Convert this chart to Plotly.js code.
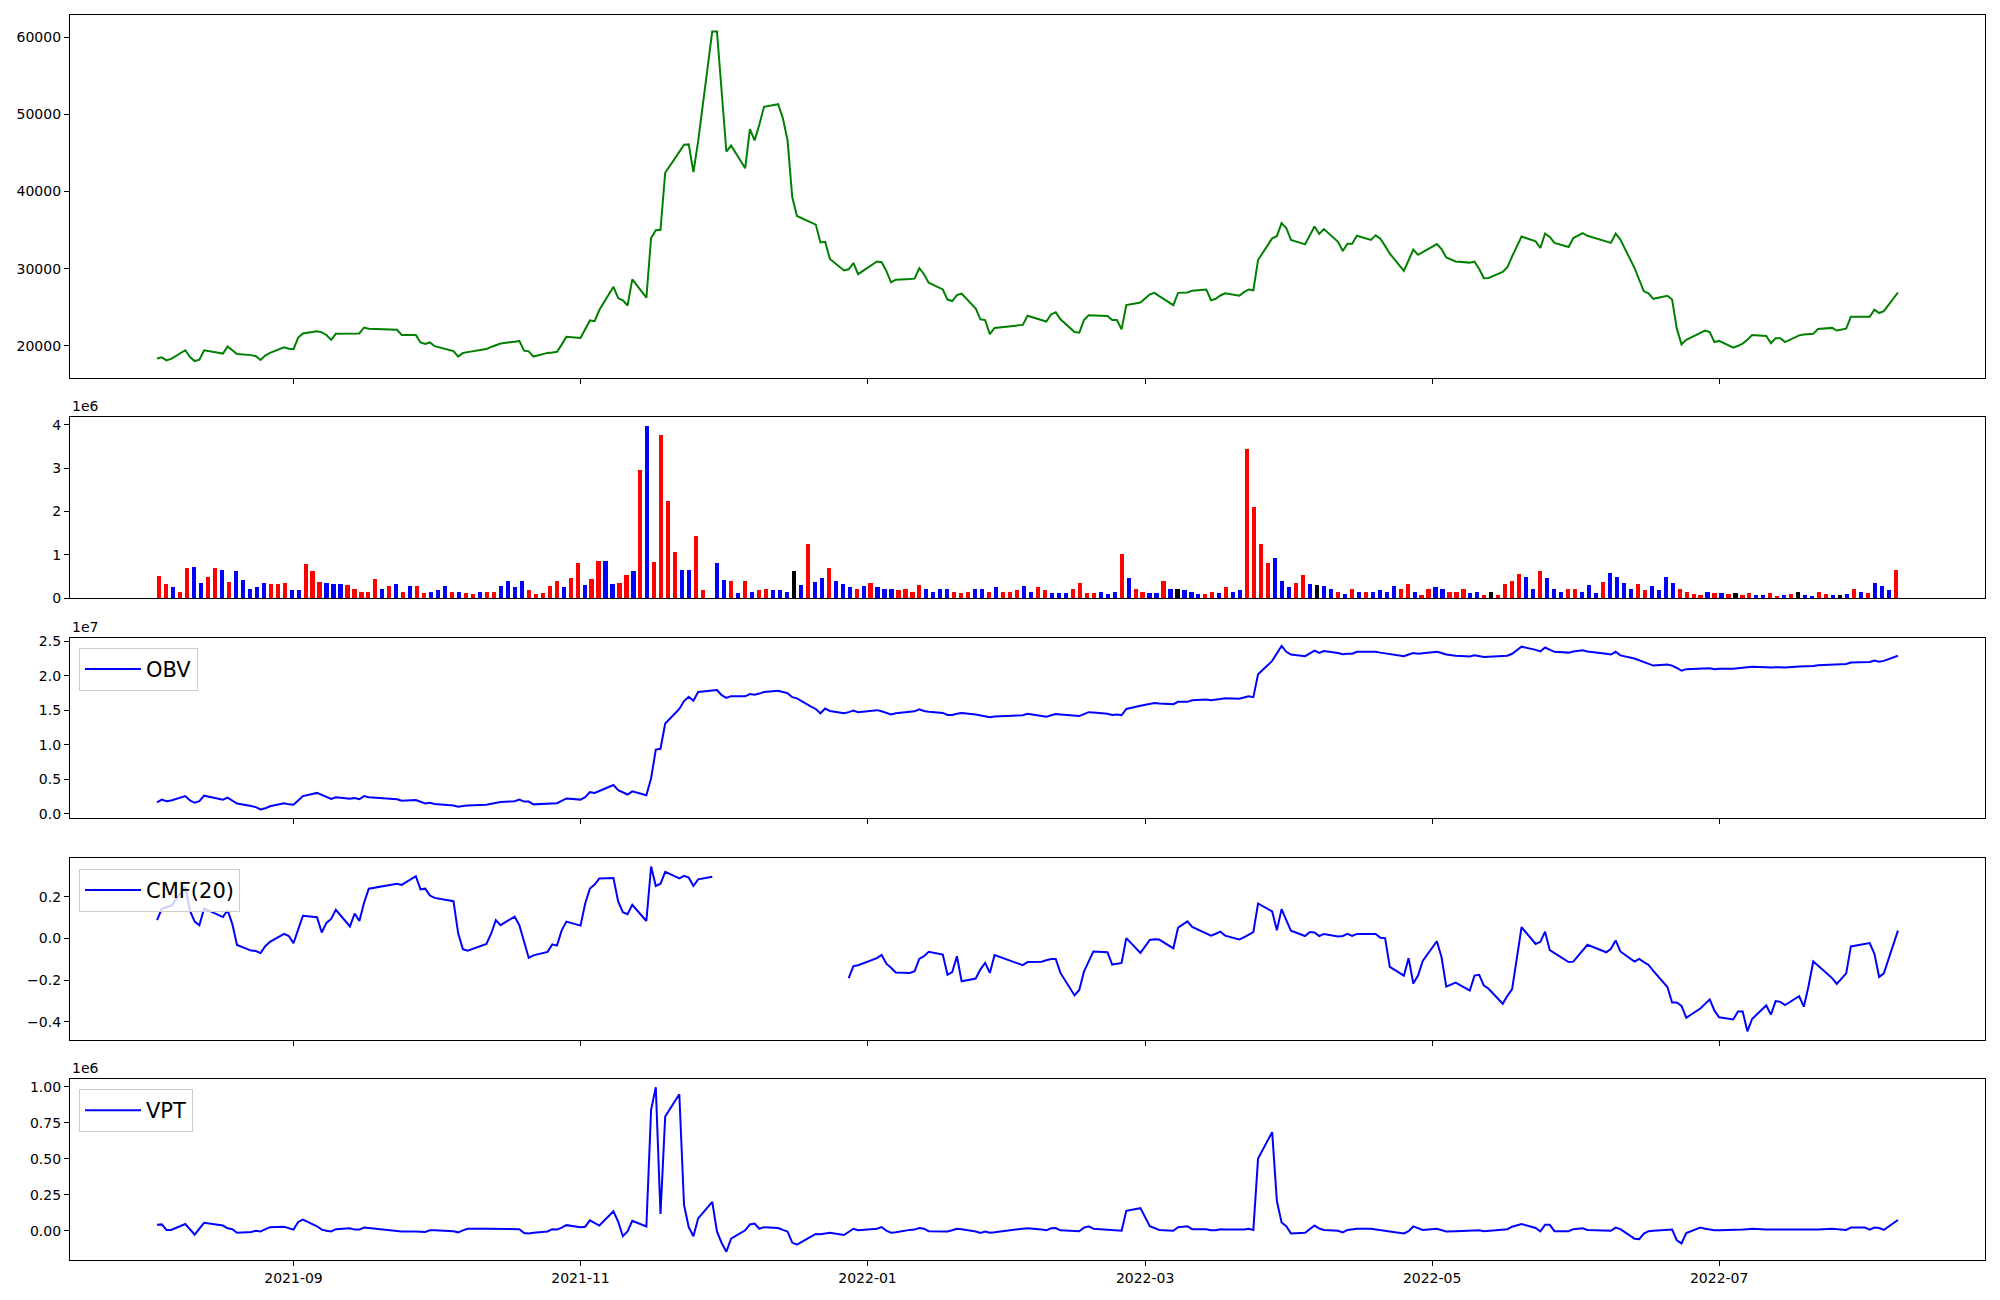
<!DOCTYPE html>
<html>
<head>
<meta charset="utf-8">
<script src="https://cdn.plot.ly/plotly-3.0.1.min.js"></script>
<style>html,body{margin:0;padding:0;background:#fff;}</style>
</head>
<body>
<div id="chart" style="width:2000px;height:1300px;"></div>
<script>
// ---------- DATA ----------
const tradeDates = [
 '2021-08-03','2021-08-04','2021-08-05','2021-08-06','2021-08-09','2021-08-10','2021-08-11','2021-08-12','2021-08-13','2021-08-17','2021-08-18','2021-08-19','2021-08-20','2021-08-23','2021-08-24','2021-08-25','2021-08-26','2021-08-27','2021-08-30','2021-08-31',
 '2021-09-01','2021-09-02','2021-09-03','2021-09-06','2021-09-07','2021-09-08','2021-09-09','2021-09-10','2021-09-13','2021-09-14','2021-09-15','2021-09-16','2021-09-17','2021-09-23','2021-09-24','2021-09-27','2021-09-28','2021-09-29','2021-09-30',
 '2021-10-01','2021-10-05','2021-10-06','2021-10-07','2021-10-08','2021-10-12','2021-10-13','2021-10-14','2021-10-15','2021-10-18','2021-10-19','2021-10-20','2021-10-21','2021-10-22','2021-10-25','2021-10-26','2021-10-27','2021-10-28','2021-10-29',
 '2021-11-01','2021-11-02','2021-11-03','2021-11-04','2021-11-05','2021-11-08','2021-11-09','2021-11-10','2021-11-11','2021-11-12','2021-11-15','2021-11-16','2021-11-17','2021-11-18','2021-11-19','2021-11-22','2021-11-23','2021-11-24','2021-11-25','2021-11-26','2021-11-29','2021-11-30',
 '2021-12-01','2021-12-02','2021-12-03','2021-12-06','2021-12-07','2021-12-08','2021-12-09','2021-12-10','2021-12-13','2021-12-14','2021-12-15','2021-12-16','2021-12-17','2021-12-20','2021-12-21','2021-12-22','2021-12-23','2021-12-24','2021-12-27','2021-12-28','2021-12-29','2021-12-30',
 '2022-01-03','2022-01-04','2022-01-05','2022-01-06','2022-01-07','2022-01-10','2022-01-11','2022-01-12','2022-01-13','2022-01-14','2022-01-17','2022-01-18','2022-01-19','2022-01-20','2022-01-21','2022-01-24','2022-01-25','2022-01-26','2022-01-27','2022-01-28',
 '2022-02-03','2022-02-04','2022-02-07','2022-02-08','2022-02-09','2022-02-10','2022-02-11','2022-02-14','2022-02-15','2022-02-16','2022-02-17','2022-02-18','2022-02-21','2022-02-22','2022-02-23','2022-02-24','2022-02-25','2022-02-28',
 '2022-03-02','2022-03-03','2022-03-04','2022-03-07','2022-03-08','2022-03-10','2022-03-11','2022-03-14','2022-03-15','2022-03-16','2022-03-17','2022-03-18','2022-03-21','2022-03-22','2022-03-23','2022-03-24','2022-03-25','2022-03-28','2022-03-29','2022-03-30','2022-03-31',
 '2022-04-01','2022-04-04','2022-04-05','2022-04-06','2022-04-07','2022-04-08','2022-04-11','2022-04-12','2022-04-13','2022-04-14','2022-04-15','2022-04-18','2022-04-19','2022-04-20','2022-04-21','2022-04-22','2022-04-25','2022-04-26','2022-04-27','2022-04-28','2022-04-29',
 '2022-05-02','2022-05-03','2022-05-04','2022-05-06','2022-05-09','2022-05-10','2022-05-11','2022-05-12','2022-05-13','2022-05-16','2022-05-17','2022-05-18','2022-05-19','2022-05-20','2022-05-23','2022-05-24','2022-05-25','2022-05-26','2022-05-27','2022-05-30','2022-05-31',
 '2022-06-02','2022-06-03','2022-06-07','2022-06-08','2022-06-09','2022-06-10','2022-06-13','2022-06-14','2022-06-15','2022-06-16','2022-06-17','2022-06-20','2022-06-21','2022-06-22','2022-06-23','2022-06-24','2022-06-27','2022-06-28','2022-06-29','2022-06-30',
 '2022-07-01','2022-07-04','2022-07-05','2022-07-06','2022-07-07','2022-07-08','2022-07-11','2022-07-12','2022-07-13','2022-07-14','2022-07-15','2022-07-18','2022-07-19','2022-07-20','2022-07-21','2022-07-22','2022-07-25','2022-07-26','2022-07-27','2022-07-28','2022-07-29',
 '2022-08-01','2022-08-02','2022-08-03','2022-08-04','2022-08-05','2022-08-08'
];

// closing price
const closePrice = [
 18360,18500,18120,18300,19420,18550,18020,18210,19420,18990,19900,19470,18940,18790,18650,18160,18740,19080,19800,19610,
 19570,21060,21600,21880,21740,21400,20770,21550,21560,21580,21600,22370,22220,22080,21400,21400,20430,20240,20430,
 19950,19320,18600,19080,19180,19570,19850,20050,20290,20530,20630,19370,19280,18600,19080,19130,19230,20150,21160,
 21010,22130,23290,23190,24640,27640,26190,25900,25220,28600,26230,33970,34980,35030,42430,45130,46050,46100,42520,46490,60740,60740,
 53000,45180,45950,43000,48080,46630,48660,50980,51320,49530,46630,39280,36820,35950,35710,33390,33480,31260,29760,29910,30730,29280,
 30920,30830,29710,28220,28560,28650,28700,30050,29280,28170,27300,25990,25800,26570,26770,24830,23430,23330,21500,22320,
 22710,23900,23380,23140,24060,24350,23430,21790,21690,23330,23960,23960,23870,23330,23330,22130,25270,25610,
 26670,26860,26430,25270,26860,26910,27150,27300,25900,26090,26520,26810,26480,26960,27300,27200,31120,33920,34210,35900,35270,
 33730,33150,34310,35470,34500,35130,33480,32280,33240,33240,34260,33730,34310,33870,32950,31940,29710,31110,32470,31790,32130,
 33190,32520,31450,30920,30780,30920,29960,28750,28800,29570,30200,31600,32860,34160,33530,32670,34550,34110,33340,32810,33970,
 34600,34260,33500,33340,34550,33770,30100,28600,27060,26810,26090,26480,25990,22220,20190,20770,21740,21980,21790,20480,
 20630,19760,20000,20290,20770,21400,21260,20340,20970,20970,20480,21350,21450,21500,21550,22170,22320,21980,22080,22220,23770,
 23770,23770,24690,24250,24490,26910
];

// traded volume, in units of 1e6 shares
const volumeM = [
 0.52,0.32,0.25,0.14,0.69,0.71,0.34,0.49,0.69,0.66,0.37,0.62,0.41,0.22,0.25,0.34,0.32,0.32,0.34,0.18,
 0.18,0.78,0.62,0.37,0.34,0.32,0.32,0.30,0.22,0.14,0.14,0.44,0.22,0.28,0.32,0.14,0.28,0.28,0.11,
 0.15,0.18,0.28,0.15,0.14,0.11,0.09,0.14,0.14,0.15,0.28,0.39,0.25,0.39,0.18,0.09,0.11,0.28,0.39,
 0.25,0.46,0.80,0.30,0.44,0.85,0.85,0.32,0.34,0.53,0.62,2.95,3.98,0.83,3.77,2.25,1.06,0.64,0.66,1.43,0.18,0.00,
 0.80,0.41,0.39,0.11,0.39,0.14,0.18,0.21,0.18,0.18,0.15,0.62,0.30,1.26,0.37,0.46,0.69,0.39,0.32,0.25,0.21,0.28,
 0.34,0.25,0.21,0.22,0.18,0.21,0.15,0.30,0.22,0.15,0.22,0.22,0.14,0.11,0.15,0.21,0.21,0.14,0.25,0.15,
 0.15,0.18,0.28,0.14,0.25,0.18,0.11,0.11,0.11,0.21,0.34,0.11,0.11,0.15,0.09,0.15,1.01,0.46,
 0.21,0.15,0.11,0.11,0.39,0.21,0.22,0.18,0.15,0.09,0.09,0.14,0.11,0.25,0.15,0.18,3.43,2.10,1.26,0.80,0.92,
 0.39,0.25,0.34,0.53,0.32,0.30,0.28,0.21,0.14,0.09,0.22,0.14,0.15,0.15,0.18,0.15,0.28,0.21,0.32,0.14,0.07,
 0.21,0.25,0.22,0.15,0.15,0.22,0.11,0.15,0.07,0.14,0.07,0.32,0.39,0.55,0.48,0.21,0.62,0.46,0.22,0.15,0.21,
 0.22,0.15,0.30,0.11,0.37,0.58,0.48,0.34,0.22,0.32,0.18,0.28,0.18,0.48,0.34,0.22,0.14,0.09,0.07,0.14,
 0.11,0.11,0.09,0.11,0.07,0.11,0.07,0.07,0.11,0.04,0.07,0.09,0.15,0.07,0.04,0.15,0.09,0.07,0.07,0.09,0.22,
 0.14,0.11,0.34,0.28,0.18,0.66
];

// bar colour class per day: 1 = up (red), -1 = down (blue), 0 = unchanged (black)
const candleDir = [
 1,1,-1,1,1,-1,-1,1,1,-1,1,-1,-1,-1,-1,-1,1,1,1,-1,
 -1,1,1,1,-1,-1,-1,1,1,1,1,1,-1,1,-1,1,-1,1,1,
 -1,-1,-1,1,-1,1,1,-1,1,1,-1,-1,-1,-1,1,1,1,1,1,
 -1,1,1,-1,1,1,-1,-1,1,1,-1,1,-1,1,1,1,1,-1,-1,1,1,0,
 -1,-1,1,-1,1,-1,1,1,-1,-1,-1,0,-1,1,-1,-1,1,-1,-1,-1,1,-1,
 1,-1,-1,-1,1,1,1,1,-1,-1,-1,-1,1,1,1,-1,-1,1,-1,1,
 1,1,-1,-1,1,1,-1,-1,-1,1,1,1,1,-1,-1,-1,1,-1,
 1,1,-1,-1,1,-1,0,-1,-1,-1,1,1,-1,1,-1,-1,1,1,1,1,-1,
 -1,-1,1,1,-1,0,-1,-1,1,-1,1,-1,1,-1,-1,-1,-1,1,1,-1,1,
 1,-1,-1,1,1,1,-1,-1,1,0,1,1,1,1,-1,-1,1,-1,-1,-1,1,
 1,-1,-1,-1,1,-1,-1,-1,-1,1,1,-1,-1,-1,-1,1,1,1,1,-1,
 1,-1,1,0,1,1,-1,-1,1,1,-1,1,0,-1,-1,1,1,-1,0,-1,1,
 -1,1,-1,-1,-1,1
];

// On-Balance Volume, in units of 1e7
const obv = [
 0.166,0.206,0.183,0.194,0.257,0.194,0.160,0.183,0.263,0.206,0.234,0.189,0.149,0.114,0.097,0.063,0.080,0.109,0.154,0.137,
 0.131,0.194,0.257,0.303,0.274,0.246,0.217,0.240,0.217,0.229,0.211,0.257,0.240,0.211,0.189,0.200,0.171,0.149,0.160,
 0.143,0.120,0.103,0.114,0.120,0.131,0.143,0.154,0.171,0.183,0.206,0.177,0.177,0.137,0.149,0.149,0.154,0.189,0.223,
 0.206,0.240,0.314,0.303,0.331,0.417,0.343,0.309,0.280,0.326,0.269,0.514,0.931,0.943,1.309,1.520,1.634,1.697,1.640,1.766,1.789,1.794,
 1.720,1.680,1.706,1.703,1.737,1.726,1.743,1.766,1.783,1.766,1.749,1.691,1.674,1.554,1.520,1.457,1.526,1.491,1.457,1.474,1.497,1.474,
 1.503,1.486,1.463,1.440,1.457,1.480,1.486,1.514,1.491,1.480,1.463,1.434,1.434,1.451,1.463,1.440,1.429,1.417,1.400,1.411,
 1.429,1.449,1.417,1.406,1.429,1.446,1.440,1.423,1.417,1.446,1.474,1.469,1.451,1.434,1.440,1.429,1.520,1.566,
 1.594,1.606,1.600,1.589,1.623,1.623,1.646,1.657,1.646,1.651,1.663,1.674,1.669,1.686,1.703,1.691,2.023,2.217,2.331,2.434,2.349,
 2.309,2.286,2.331,2.366,2.334,2.360,2.331,2.314,2.320,2.320,2.349,2.349,2.349,2.337,2.326,2.309,2.286,2.309,2.331,2.320,2.326,
 2.349,2.331,2.309,2.291,2.280,2.297,2.286,2.274,2.277,2.286,2.291,2.320,2.366,2.423,2.377,2.354,2.411,2.377,2.349,2.337,2.354,
 2.371,2.354,2.320,2.309,2.349,2.297,2.251,2.223,2.194,2.166,2.149,2.166,2.149,2.114,2.074,2.097,2.109,2.114,2.109,2.097,
 2.103,2.103,2.109,2.114,2.120,2.131,2.126,2.120,2.126,2.126,2.120,2.137,2.137,2.137,2.143,2.154,2.160,2.160,2.166,2.171,2.194,
 2.206,2.200,2.223,2.206,2.217,2.291
];

// Chaikin Money Flow (20)
const cmf20 = [
 0.088,0.142,0.151,0.157,0.248,0.134,0.081,0.063,0.145,0.103,0.136,0.069,-0.031,-0.058,-0.060,-0.070,-0.037,-0.016,0.022,0.012,
 -0.022,0.039,0.109,0.102,0.029,0.075,0.094,0.138,0.058,0.120,0.084,0.172,0.239,0.263,0.257,0.299,0.236,0.239,0.206,
 0.195,0.179,0.025,-0.051,-0.058,-0.026,0.023,0.088,0.064,0.105,0.064,-0.018,-0.093,-0.081,-0.064,-0.028,-0.034,0.039,0.081,
 0.062,0.168,0.240,0.259,0.288,0.290,0.178,0.126,0.117,0.162,0.084,0.345,0.252,0.263,0.320,0.288,0.301,0.292,0.252,0.284,0.296,null,
 null,null,null,null,null,null,null,null,null,null,null,null,null,null,null,null,null,null,null,-0.190,-0.132,-0.128,
 -0.094,-0.079,-0.121,-0.140,-0.163,-0.165,-0.157,-0.098,-0.085,-0.064,-0.077,-0.174,-0.161,-0.085,-0.205,-0.192,-0.148,-0.117,-0.165,-0.079,
 -0.128,-0.113,-0.111,-0.104,-0.098,-0.098,-0.165,-0.273,-0.247,-0.159,-0.108,-0.062,-0.066,-0.125,-0.121,-0.117,0.002,-0.069,
 -0.007,-0.003,-0.005,-0.047,0.052,0.082,0.056,0.025,0.014,0.023,0.033,0.014,-0.005,0.006,0.018,0.031,0.168,0.130,0.039,0.141,0.088,
 0.037,0.012,0.031,0.029,0.012,0.022,0.010,0.012,0.022,0.012,0.022,0.022,0.022,0.004,0.002,-0.136,-0.178,-0.094,-0.216,-0.178,-0.108,
 -0.013,-0.090,-0.231,-0.212,-0.250,-0.178,-0.174,-0.226,-0.241,-0.313,-0.275,-0.243,-0.094,0.054,-0.026,-0.016,0.033,-0.056,-0.070,-0.113,-0.111,
 -0.060,-0.030,-0.066,-0.049,-0.009,-0.062,-0.111,-0.098,-0.113,-0.127,-0.155,-0.233,-0.307,-0.307,-0.323,-0.380,-0.336,-0.313,-0.292,-0.346,
 -0.378,-0.388,-0.350,-0.350,-0.445,-0.386,-0.321,-0.365,-0.300,-0.304,-0.319,-0.277,-0.327,-0.228,-0.110,-0.129,-0.190,-0.218,-0.193,-0.167,-0.038,
 -0.028,-0.022,-0.073,-0.184,-0.167,0.038
];

// Volume Price Trend, in units of 1e6
const vpt = [
 0.040,0.043,0.005,0.005,0.046,0.007,-0.028,0.013,0.054,0.035,0.016,0.010,-0.015,-0.009,-0.001,-0.006,0.010,0.024,0.027,0.018,
 0.007,0.060,0.076,0.030,0.007,-0.001,-0.006,0.010,0.016,0.007,0.007,0.021,0.018,0.002,-0.006,-0.006,-0.009,-0.009,0.002,
 0.002,-0.004,-0.012,0.002,0.013,0.013,0.013,0.013,0.013,0.013,0.010,-0.017,-0.020,-0.015,-0.006,0.010,0.007,0.021,0.038,
 0.024,0.027,0.071,0.051,0.035,0.134,0.063,-0.039,-0.006,0.068,0.029,0.839,0.996,0.115,0.792,0.947,0.178,0.024,-0.039,0.085,0.200,-0.006,
 -0.086,-0.147,-0.056,0.002,0.043,0.049,0.013,0.024,0.018,0.005,-0.006,-0.083,-0.097,-0.042,-0.023,-0.026,-0.020,-0.015,-0.031,-0.006,0.013,0.002,
 0.013,0.024,-0.001,-0.015,-0.012,0.005,0.007,0.018,0.013,-0.004,-0.006,-0.006,0.002,0.013,0.010,-0.006,-0.017,-0.006,-0.015,-0.012,
 0.013,0.016,0.007,0.002,0.016,0.018,0.002,-0.006,-0.004,0.021,0.029,0.013,0.005,0.002,0.002,-0.001,0.137,0.156,
 0.030,0.018,0.005,-0.001,0.024,0.030,0.010,0.010,0.002,0.002,0.010,0.007,0.005,0.007,0.013,0.005,0.500,0.684,0.206,0.057,0.030,
 -0.020,-0.015,0.010,0.035,0.014,0.005,-0.001,-0.012,0.005,0.010,0.013,0.013,0.007,0.002,-0.004,-0.006,-0.020,-0.004,0.029,0.016,0.005,
 0.013,0.005,-0.006,-0.004,0.002,0.005,0.002,-0.004,-0.001,0.007,0.010,0.027,0.038,0.046,0.018,-0.006,0.040,0.040,-0.004,-0.004,0.010,
 0.016,0.005,-0.002,-0.001,0.021,0.010,-0.056,-0.059,-0.020,-0.004,-0.001,0.005,0.007,-0.067,-0.089,-0.017,0.021,0.013,0.005,0.002,
 0.002,0.002,0.005,0.007,0.010,0.013,0.007,0.007,0.007,0.007,0.007,0.010,0.010,0.007,0.005,0.007,0.013,0.010,0.007,0.005,0.021,
 0.021,0.007,0.021,0.018,0.005,0.074
];

const xTickDates = ['2021-09-01','2021-11-01','2022-01-01','2022-03-01','2022-05-01','2022-07-01'];
const xTickLabels = ['2021-09','2021-11','2022-01','2022-03','2022-05','2022-07'];

// ---------- HELPERS ----------
function padRange(arr, lowZero) {
  const v = arr.filter(x => x !== null);
  const mn = Math.min(...v), mx = Math.max(...v);
  if (lowZero) return [0, mx * 1.05];
  const p = (mx - mn) * 0.05;
  return [mn - p, mx + p];
}
function dayShift(dateStr, days) {
  const t = new Date(dateStr + 'T00:00:00Z').getTime() + days * 86400000;
  return new Date(t).toISOString().slice(0, 19).replace('T', ' ');
}
const first = tradeDates[0], last = tradeDates[tradeDates.length - 1];
const spanDays = (new Date(last + 'T00:00:00Z') - new Date(first + 'T00:00:00Z')) / 86400000;
const dateRange = [dayShift(first, -0.05 * spanDays), dayShift(last, 0.05 * spanDays)];

const n = volumeM.length;
const barW = 0.6;
const barExt = (n - 1) + barW;
const barRange = [-barW / 2 - 0.05 * barExt, (n - 1) + barW / 2 + 0.05 * barExt];
const barIdx = volumeM.map((_, i) => i);
const colorMap = {'1': '#ff0000', '-1': '#0000ff', '0': '#000000'};
const barColors = candleDir.map(d => colorMap[String(d)]);

// ---------- TRACES ----------
const lineW = 2;
const traces = [
  {type: 'scatter', mode: 'lines', x: tradeDates, y: closePrice, xaxis: 'x', yaxis: 'y',
   line: {color: '#008000', width: lineW}, showlegend: false, name: 'Close'},
  {type: 'bar', x: barIdx, y: volumeM, xaxis: 'x2', yaxis: 'y2', width: barW,
   marker: {color: barColors, line: {width: 0}}, showlegend: false, name: 'Volume'},
  {type: 'scatter', mode: 'lines', x: tradeDates, y: obv, xaxis: 'x3', yaxis: 'y3',
   line: {color: '#0000ff', width: lineW}, name: 'OBV', legend: 'legend'},
  {type: 'scatter', mode: 'lines', x: tradeDates, y: cmf20, xaxis: 'x4', yaxis: 'y4',
   line: {color: '#0000ff', width: lineW}, name: 'CMF(20)', legend: 'legend2', connectgaps: false},
  {type: 'scatter', mode: 'lines', x: tradeDates, y: vpt, xaxis: 'x5', yaxis: 'y5',
   line: {color: '#0000ff', width: lineW}, name: 'VPT', legend: 'legend3'}
];

// ---------- LAYOUT ----------
const frame = {showline: true, mirror: true, linecolor: '#000', linewidth: 1.1,
  ticks: 'outside', ticklen: 5, tickwidth: 1.1, tickcolor: '#000',
  showgrid: false, zeroline: false, tickfont: {size: 14, color: '#000'}};

const dom = {
  p1: [0.7088, 1.0], p2: [0.5316, 0.6771], p3: [0.3553, 0.4998], p4: [0.1771, 0.3226], p5: [0.0, 0.1454]
};

function legendBox(yTop) {
  return {x: 0.0047, y: yTop, xanchor: 'left', yanchor: 'top',
    bgcolor: 'rgba(255,255,255,0.8)', bordercolor: '#cccccc', borderwidth: 1,
    font: {size: 21, color: '#000'}, itemwidth: 56, tracegroupgap: 0};
}

const dateAxis = Object.assign({}, frame, {type: 'date', range: dateRange,
  tickvals: xTickDates, ticktext: xTickLabels});

const layout = {
  width: 2000, height: 1300,
  margin: {l: 70, r: 15, t: 15, b: 40},
  paper_bgcolor: '#fff', plot_bgcolor: '#fff',
  font: {family: 'DejaVu Sans, sans-serif', size: 14, color: '#000'},
  bargap: 0,
  xaxis: Object.assign({}, dateAxis, {anchor: 'y', showticklabels: false}),
  yaxis: Object.assign({}, frame, {domain: dom.p1, anchor: 'x', range: padRange(closePrice),
    tickvals: [20000, 30000, 40000, 50000, 60000], tickformat: 'd'}),
  xaxis2: Object.assign({}, frame, {anchor: 'y2', range: barRange, showticklabels: false, ticks: ''}),
  yaxis2: Object.assign({}, frame, {domain: dom.p2, anchor: 'x2', range: padRange(volumeM, true),
    tickvals: [0, 1, 2, 3, 4]}),
  xaxis3: Object.assign({}, dateAxis, {anchor: 'y3', showticklabels: false}),
  yaxis3: Object.assign({}, frame, {domain: dom.p3, anchor: 'x3', range: padRange(obv),
    tickvals: [0, 0.5, 1.0, 1.5, 2.0, 2.5], tickformat: '.1f'}),
  xaxis4: Object.assign({}, dateAxis, {anchor: 'y4', showticklabels: false}),
  yaxis4: Object.assign({}, frame, {domain: dom.p4, anchor: 'x4', range: padRange(cmf20),
    tickvals: [-0.4, -0.2, 0.0, 0.2], tickformat: '.1f'}),
  xaxis5: Object.assign({}, dateAxis, {anchor: 'y5'}),
  yaxis5: Object.assign({}, frame, {domain: dom.p5, anchor: 'x5', range: padRange(vpt),
    tickvals: [0, 0.25, 0.5, 0.75, 1.0], tickformat: '.2f'}),
  legend: legendBox(0.4916),
  legend2: legendBox(0.3141),
  legend3: legendBox(0.1373),
  annotations: [
    {text: '1e6', xref: 'paper', yref: 'paper', x: 0, y: dom.p2[1], xanchor: 'left', yanchor: 'bottom',
     showarrow: false, font: {size: 14, color: '#000'}, yshift: 1},
    {text: '1e7', xref: 'paper', yref: 'paper', x: 0, y: dom.p3[1], xanchor: 'left', yanchor: 'bottom',
     showarrow: false, font: {size: 14, color: '#000'}, yshift: 1},
    {text: '1e6', xref: 'paper', yref: 'paper', x: 0, y: dom.p5[1], xanchor: 'left', yanchor: 'bottom',
     showarrow: false, font: {size: 14, color: '#000'}, yshift: 1}
  ]
};

Plotly.newPlot('chart', traces, layout, {displayModeBar: false, staticPlot: true});
</script>
</body>
</html>
